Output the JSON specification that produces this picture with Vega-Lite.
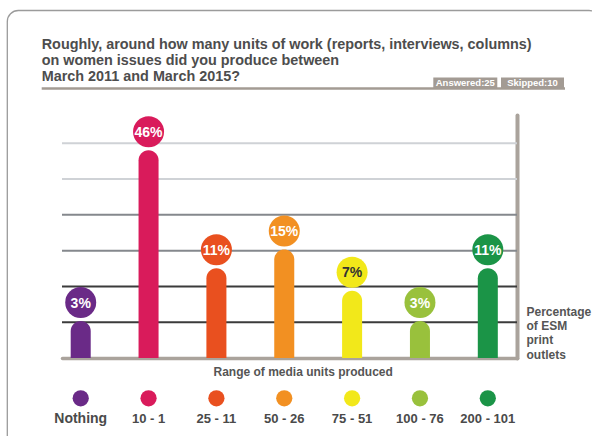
{
  "$schema": "https://vega.github.io/schema/vega-lite/v6.json",
  "width": 455,
  "height": 243,
  "autosize": {"type": "none"},
  "padding": {"left": 62, "top": 115, "right": 75, "bottom": 78},
  "background": "white",
  "config": {"view": {"stroke": null}, "font": "Liberation Sans"},
  "title": {
    "text": ["Roughly, around how many units of work (reports, interviews, columns)", "on women issues did you produce between", "March 2011 and March 2015?"],
    "anchor": "start",
    "frame": "group",
    "dx": -20.3,
    "dy": 75,
    "fontSize": 14.4,
    "fontWeight": "bold",
    "color": "#4d4d4d",
    "lineHeight": 16.3,
    "offset": 0
  },
  "layer": [
    {
      "data": {"values": [{}]},
      "mark": {"type": "rect", "cornerRadius": 11, "fill": "white", "fillOpacity": 0, "stroke": "#9b9b9b", "strokeWidth": 1.3},
      "encoding": {"x": {"value": -54.7}, "x2": {"value": 538}, "y": {"value": -104.5}, "y2": {"value": 335}}
    },
    {
      "data": {"values": [{"level": 1}, {"level": 2}, {"level": 3}, {"level": 4}, {"level": 5}, {"level": 6}]},
      "mark": {"type": "rule", "strokeWidth": 2},
      "encoding": {
        "y": {"field": "level", "type": "quantitative", "scale": {"domain": [0, 6.79], "nice": false}, "axis": null},
        "color": {"field": "level", "type": "ordinal", "scale": {"domain": [1, 2, 3, 4, 5, 6], "range": ["#3b3b3b", "#3b3b3b", "#85888d", "#85888d", "#cfd2d6", "#cfd2d6"]}, "legend": null}
      }
    },
    {
      "data": {"values": [{}]},
      "mark": {"type": "rule", "stroke": "#a39b93", "strokeWidth": 2.3},
      "encoding": {"x": {"value": -20.3}, "x2": {"value": 503}, "y": {"value": -26.5}}
    },
    {
      "data": {"values": [{}]},
      "mark": {"type": "rect", "fill": "#a39b94"},
      "encoding": {"x": {"value": 371.3}, "x2": {"value": 435.3}, "y": {"value": -37.5}, "y2": {"value": -27}}
    },
    {
      "data": {"values": [{}]},
      "mark": {"type": "rect", "fill": "#a39b94"},
      "encoding": {"x": {"value": 439}, "x2": {"value": 502}, "y": {"value": -37.5}, "y2": {"value": -27}}
    },
    {
      "data": {"values": [{"label": "Answered:25"}]},
      "mark": {"type": "text", "fontSize": 9.5, "fontWeight": "bold", "color": "white", "align": "center", "baseline": "alphabetic"},
      "encoding": {"text": {"field": "label"}, "x": {"value": 403.3}, "y": {"value": -29.5}}
    },
    {
      "data": {"values": [{"label": "Skipped:10"}]},
      "mark": {"type": "text", "fontSize": 9.5, "fontWeight": "bold", "color": "white", "align": "center", "baseline": "alphabetic"},
      "encoding": {"text": {"field": "label"}, "x": {"value": 470.5}, "y": {"value": -29.5}}
    },
    {
      "data": {"values": [
        {"range": "Nothing", "share": 0.03},
        {"range": "10 - 1", "share": 0.46},
        {"range": "25 - 11", "share": 0.11},
        {"range": "50 - 26", "share": 0.15},
        {"range": "75 - 51", "share": 0.07},
        {"range": "100 - 76", "share": 0.03},
        {"range": "200 - 101", "share": 0.11}
      ]},
      "encoding": {
        "x": {
          "field": "range", "type": "nominal", "sort": null,
          "scale": {"paddingInner": 0.705, "paddingOuter": 0.2055, "align": 0.312},
          "axis": {
            "orient": "bottom", "title": "Range of media units produced",
            "domain": true, "domainColor": "#aaa39c", "domainWidth": 3.5, "domainCap": "round",
            "ticks": false, "grid": false, "labelAngle": 0, "labelPadding": 64, "labelBaseline": "alphabetic",
            "labelFontWeight": "bold", "labelColor": "#4a4a4a",
            "labelFontSize": {"condition": {"test": "datum.value === 'Nothing'", "value": 14}, "value": 13},
            "labelOverlap": false, "labelBound": false,
            "titleFontSize": 12, "titleFontWeight": "bold", "titleColor": "#555555",
            "titleX": 240.7, "titleY": 17, "titleBaseline": "alphabetic", "titleAlign": "center"
          }
        },
        "y": {
          "field": "share", "type": "quantitative", "stack": null,
          "scale": {"type": "pow", "exponent": 0.515, "domain": [0, 0.5286], "nice": false, "zero": true},
          "axis": {
            "orient": "right", "domain": true, "domainColor": "#aaa39c", "domainWidth": 4, "domainCap": "round",
            "ticks": false, "labels": false, "grid": false,
            "title": ["Percentage", "of ESM", "print", "outlets"],
            "titleAngle": 0, "titleAlign": "left", "titleBaseline": "alphabetic",
            "titleX": 9, "titleY": 200, "titleFontSize": 12, "titleFontWeight": "bold", "titleColor": "#555555", "titleLineHeight": 14.4
          }
        },
        "color": {
          "field": "range", "type": "nominal", "sort": null,
          "scale": {
            "domain": ["Nothing", "10 - 1", "25 - 11", "50 - 26", "75 - 51", "100 - 76", "200 - 101"],
            "range": ["#6a2a87", "#d91b5b", "#e9501f", "#f29022", "#f2e81a", "#99c13c", "#1b9447"]
          },
          "legend": null
        }
      },
      "layer": [
        {"mark": {"type": "bar", "cornerRadiusTopLeft": 10, "cornerRadiusTopRight": 10, "yOffset": 18.5}},
        {"mark": {"type": "point", "filled": true, "opacity": 1, "size": 960}},
        {
          "mark": {"type": "text", "fontSize": 14, "fontWeight": "bold", "baseline": "middle", "dy": 1},
          "encoding": {
            "text": {"field": "share", "type": "quantitative", "format": ".0%"},
            "color": {"condition": {"test": "datum.range === '75 - 51'", "value": "#333333"}, "value": "white"}
          }
        },
        {
          "mark": {"type": "point", "filled": true, "opacity": 1, "size": 263, "yOffset": 40.3},
          "encoding": {"y": {"datum": 0}}
        }
      ]
    }
  ],
  "resolve": {"scale": {"y": "independent", "color": "independent"}}
}
